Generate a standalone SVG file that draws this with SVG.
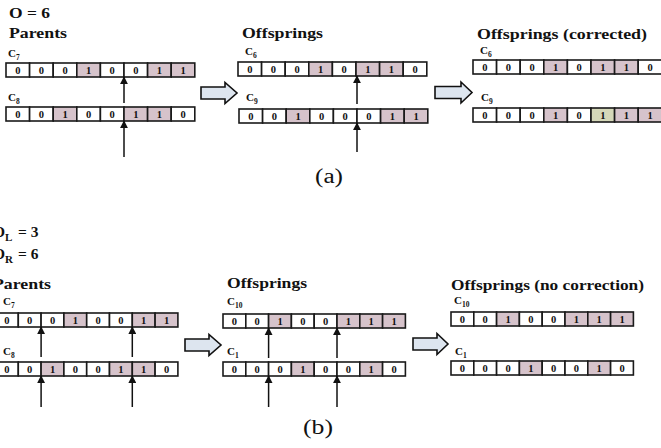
<svg xmlns="http://www.w3.org/2000/svg" width="661" height="448" viewBox="0 0 661 448">
  <style>
    .title { font-family: "Liberation Serif", "Times New Roman", serif; font-weight: bold; font-size: 15.5px; fill: #111; }
    .lbl { font-family: "Liberation Serif", "Times New Roman", serif; font-weight: bold; font-size: 11px; fill: #111; }
    .sub { font-size: 7.5px; }
    .cell { fill: #ffffff; stroke: #1a1a1a; stroke-width: 1.6; }
    .on { fill: #d6c3cb; }
    .fix { fill: #d5d8b9; }
    .bit { font-family: "Liberation Serif", "Times New Roman", serif; font-weight: bold; font-size: 10.5px; fill: #111; text-anchor: middle; }
    .cut { stroke: #111; stroke-width: 1.5; fill: none; marker-end: url(#tip); }
    .flow { fill: #dde5ef; stroke: #111; stroke-width: 1.6; stroke-linejoin: miter; }
    .cap { font-family: "Liberation Serif", "DejaVu Serif", serif; font-size: 20px; fill: #111; }
  </style>
  <defs>
    <marker id="tip" viewBox="0 0 10 10" refX="9" refY="5" markerWidth="5.5" markerHeight="5.5" orient="auto" markerUnits="strokeWidth">
      <path d="M0,0 L10,5 L0,10 Z" fill="#111"/>
    </marker>
  </defs>

  <rect width="661" height="448" fill="#ffffff"/>

  <!-- ===== (a) single-point crossover ===== -->
  <g id="a-headers">
    <text class="title" x="9" y="18" textLength="41" lengthAdjust="spacingAndGlyphs">O = 6</text>
    <text class="title" x="9" y="38" textLength="58" lengthAdjust="spacingAndGlyphs">Parents</text>
    <text class="title" x="242" y="38" textLength="81" lengthAdjust="spacingAndGlyphs">Offsprings</text>
    <text class="title" x="477" y="39" textLength="170" lengthAdjust="spacingAndGlyphs">Offsprings (corrected)</text>
  </g>

  <!-- parent C7 -->
  <g id="a-parent-c7">
    <text class="lbl" x="8" y="57">C<tspan class="sub" dy="3">7</tspan></text>
    <g transform="translate(6,63)">
      <rect class="cell" x="0" y="0" width="23.6" height="14"/>
      <rect class="cell" x="23.6" y="0" width="23.6" height="14"/>
      <rect class="cell" x="47.2" y="0" width="23.6" height="14"/>
      <rect class="cell on" x="70.8" y="0" width="23.6" height="14"/>
      <rect class="cell" x="94.4" y="0" width="23.6" height="14"/>
      <rect class="cell" x="118" y="0" width="23.6" height="14"/>
      <rect class="cell on" x="141.6" y="0" width="23.6" height="14"/>
      <rect class="cell on" x="165.2" y="0" width="23.6" height="14"/>
      <text class="bit" x="11.8" y="10.5">0</text><text class="bit" x="35.4" y="10.5">0</text>
      <text class="bit" x="59" y="10.5">0</text><text class="bit" x="82.6" y="10.5">1</text>
      <text class="bit" x="106.2" y="10.5">0</text><text class="bit" x="129.8" y="10.5">0</text>
      <text class="bit" x="153.4" y="10.5">1</text><text class="bit" x="177" y="10.5">1</text>
    </g>
  </g>

  <!-- parent C8 -->
  <g id="a-parent-c8">
    <text class="lbl" x="8" y="101">C<tspan class="sub" dy="3">8</tspan></text>
    <g transform="translate(6,107)">
      <rect class="cell" x="0" y="0" width="23.6" height="14"/>
      <rect class="cell" x="23.6" y="0" width="23.6" height="14"/>
      <rect class="cell on" x="47.2" y="0" width="23.6" height="14"/>
      <rect class="cell" x="70.8" y="0" width="23.6" height="14"/>
      <rect class="cell" x="94.4" y="0" width="23.6" height="14"/>
      <rect class="cell on" x="118" y="0" width="23.6" height="14"/>
      <rect class="cell on" x="141.6" y="0" width="23.6" height="14"/>
      <rect class="cell" x="165.2" y="0" width="23.6" height="14"/>
      <text class="bit" x="11.8" y="10.5">0</text><text class="bit" x="35.4" y="10.5">0</text>
      <text class="bit" x="59" y="10.5">1</text><text class="bit" x="82.6" y="10.5">0</text>
      <text class="bit" x="106.2" y="10.5">0</text><text class="bit" x="129.8" y="10.5">1</text>
      <text class="bit" x="153.4" y="10.5">1</text><text class="bit" x="177" y="10.5">0</text>
    </g>
  </g>

  <!-- offspring C6 -->
  <g id="a-child-c6">
    <text class="lbl" x="245" y="55">C<tspan class="sub" dy="3">6</tspan></text>
    <g transform="translate(238,62)">
      <rect class="cell" x="0" y="0" width="23.6" height="14"/>
      <rect class="cell" x="23.6" y="0" width="23.6" height="14"/>
      <rect class="cell" x="47.2" y="0" width="23.6" height="14"/>
      <rect class="cell on" x="70.8" y="0" width="23.6" height="14"/>
      <rect class="cell" x="94.4" y="0" width="23.6" height="14"/>
      <rect class="cell on" x="118" y="0" width="23.6" height="14"/>
      <rect class="cell on" x="141.6" y="0" width="23.6" height="14"/>
      <rect class="cell" x="165.2" y="0" width="23.6" height="14"/>
      <text class="bit" x="11.8" y="10.5">0</text><text class="bit" x="35.4" y="10.5">0</text>
      <text class="bit" x="59" y="10.5">0</text><text class="bit" x="82.6" y="10.5">1</text>
      <text class="bit" x="106.2" y="10.5">0</text><text class="bit" x="129.8" y="10.5">1</text>
      <text class="bit" x="153.4" y="10.5">1</text><text class="bit" x="177" y="10.5">0</text>
    </g>
  </g>

  <!-- offspring C9 -->
  <g id="a-child-c9">
    <text class="lbl" x="246" y="101">C<tspan class="sub" dy="3">9</tspan></text>
    <g transform="translate(239,109)">
      <rect class="cell" x="0" y="0" width="23.6" height="14"/>
      <rect class="cell" x="23.6" y="0" width="23.6" height="14"/>
      <rect class="cell on" x="47.2" y="0" width="23.6" height="14"/>
      <rect class="cell" x="70.8" y="0" width="23.6" height="14"/>
      <rect class="cell" x="94.4" y="0" width="23.6" height="14"/>
      <rect class="cell" x="118" y="0" width="23.6" height="14"/>
      <rect class="cell on" x="141.6" y="0" width="23.6" height="14"/>
      <rect class="cell on" x="165.2" y="0" width="23.6" height="14"/>
      <text class="bit" x="11.8" y="10.5">0</text><text class="bit" x="35.4" y="10.5">0</text>
      <text class="bit" x="59" y="10.5">1</text><text class="bit" x="82.6" y="10.5">0</text>
      <text class="bit" x="106.2" y="10.5">0</text><text class="bit" x="129.8" y="10.5">0</text>
      <text class="bit" x="153.4" y="10.5">1</text><text class="bit" x="177" y="10.5">1</text>
    </g>
  </g>

  <!-- corrected C6 -->
  <g id="a-fixed-c6">
    <text class="lbl" x="480" y="54">C<tspan class="sub" dy="3">6</tspan></text>
    <g transform="translate(473,60)">
      <rect class="cell" x="0" y="0" width="23.6" height="14"/>
      <rect class="cell" x="23.6" y="0" width="23.6" height="14"/>
      <rect class="cell" x="47.2" y="0" width="23.6" height="14"/>
      <rect class="cell on" x="70.8" y="0" width="23.6" height="14"/>
      <rect class="cell" x="94.4" y="0" width="23.6" height="14"/>
      <rect class="cell on" x="118" y="0" width="23.6" height="14"/>
      <rect class="cell on" x="141.6" y="0" width="23.6" height="14"/>
      <rect class="cell" x="165.2" y="0" width="23.6" height="14"/>
      <text class="bit" x="11.8" y="10.5">0</text><text class="bit" x="35.4" y="10.5">0</text>
      <text class="bit" x="59" y="10.5">0</text><text class="bit" x="82.6" y="10.5">1</text>
      <text class="bit" x="106.2" y="10.5">0</text><text class="bit" x="129.8" y="10.5">1</text>
      <text class="bit" x="153.4" y="10.5">1</text><text class="bit" x="177" y="10.5">0</text>
    </g>
  </g>

  <!-- corrected C9 (repaired gene highlighted) -->
  <g id="a-fixed-c9">
    <text class="lbl" x="481" y="101">C<tspan class="sub" dy="3">9</tspan></text>
    <g transform="translate(473,108)">
      <rect class="cell" x="0" y="0" width="23.6" height="14"/>
      <rect class="cell" x="23.6" y="0" width="23.6" height="14"/>
      <rect class="cell" x="47.2" y="0" width="23.6" height="14"/>
      <rect class="cell on" x="70.8" y="0" width="23.6" height="14"/>
      <rect class="cell" x="94.4" y="0" width="23.6" height="14"/>
      <rect class="cell fix" x="118" y="0" width="23.6" height="14"/>
      <rect class="cell on" x="141.6" y="0" width="23.6" height="14"/>
      <rect class="cell on" x="165.2" y="0" width="23.6" height="14"/>
      <text class="bit" x="11.8" y="10.5">0</text><text class="bit" x="35.4" y="10.5">0</text>
      <text class="bit" x="59" y="10.5">0</text><text class="bit" x="82.6" y="10.5">1</text>
      <text class="bit" x="106.2" y="10.5">0</text><text class="bit" x="129.8" y="10.5">1</text>
      <text class="bit" x="153.4" y="10.5">1</text><text class="bit" x="177" y="10.5">1</text>
    </g>
  </g>

  <!-- ===== (b) two-point crossover ===== -->
  <g id="b-headers">
    <text class="title" x="-7" y="237">O<tspan class="sub" style="font-size:11px" dy="4">L</tspan><tspan dy="-4" x="18">= 3</tspan></text>
    <text class="title" x="-7" y="259">O<tspan class="sub" style="font-size:11px" dy="4">R</tspan><tspan dy="-4" x="18">= 6</tspan></text>
    <text class="title" x="-7" y="289" textLength="58" lengthAdjust="spacingAndGlyphs">Parents</text>
    <text class="title" x="227" y="288" textLength="80" lengthAdjust="spacingAndGlyphs">Offsprings</text>
    <text class="title" x="451" y="290" textLength="193" lengthAdjust="spacingAndGlyphs">Offsprings (no correction)</text>
  </g>

  <!-- parent C7 -->
  <g id="b-parent-c7">
    <text class="lbl" x="3" y="305">C<tspan class="sub" dy="3">7</tspan></text>
    <g transform="translate(-4.5,313)">
      <rect class="cell" x="0" y="0" width="22.8" height="14"/>
      <rect class="cell" x="22.8" y="0" width="22.8" height="14"/>
      <rect class="cell" x="45.6" y="0" width="22.8" height="14"/>
      <rect class="cell on" x="68.4" y="0" width="22.8" height="14"/>
      <rect class="cell" x="91.2" y="0" width="22.8" height="14"/>
      <rect class="cell" x="114" y="0" width="22.8" height="14"/>
      <rect class="cell on" x="136.8" y="0" width="22.8" height="14"/>
      <rect class="cell on" x="159.6" y="0" width="22.8" height="14"/>
      <text class="bit" x="11.4" y="10.5">0</text><text class="bit" x="34.2" y="10.5">0</text>
      <text class="bit" x="57" y="10.5">0</text><text class="bit" x="79.8" y="10.5">1</text>
      <text class="bit" x="102.6" y="10.5">0</text><text class="bit" x="125.4" y="10.5">0</text>
      <text class="bit" x="148.2" y="10.5">1</text><text class="bit" x="171" y="10.5">1</text>
    </g>
  </g>

  <!-- parent C8 -->
  <g id="b-parent-c8">
    <text class="lbl" x="3" y="355">C<tspan class="sub" dy="3">8</tspan></text>
    <g transform="translate(-4.5,362)">
      <rect class="cell" x="0" y="0" width="22.8" height="14"/>
      <rect class="cell" x="22.8" y="0" width="22.8" height="14"/>
      <rect class="cell on" x="45.6" y="0" width="22.8" height="14"/>
      <rect class="cell" x="68.4" y="0" width="22.8" height="14"/>
      <rect class="cell" x="91.2" y="0" width="22.8" height="14"/>
      <rect class="cell on" x="114" y="0" width="22.8" height="14"/>
      <rect class="cell on" x="136.8" y="0" width="22.8" height="14"/>
      <rect class="cell" x="159.6" y="0" width="22.8" height="14"/>
      <text class="bit" x="11.4" y="10.5">0</text><text class="bit" x="34.2" y="10.5">0</text>
      <text class="bit" x="57" y="10.5">1</text><text class="bit" x="79.8" y="10.5">0</text>
      <text class="bit" x="102.6" y="10.5">0</text><text class="bit" x="125.4" y="10.5">1</text>
      <text class="bit" x="148.2" y="10.5">1</text><text class="bit" x="171" y="10.5">0</text>
    </g>
  </g>

  <!-- offspring C10 -->
  <g id="b-child-c10">
    <text class="lbl" x="227" y="305">C<tspan class="sub" dy="3">10</tspan></text>
    <g transform="translate(223,314)">
      <rect class="cell" x="0" y="0" width="22.8" height="14"/>
      <rect class="cell" x="22.8" y="0" width="22.8" height="14"/>
      <rect class="cell on" x="45.6" y="0" width="22.8" height="14"/>
      <rect class="cell" x="68.4" y="0" width="22.8" height="14"/>
      <rect class="cell" x="91.2" y="0" width="22.8" height="14"/>
      <rect class="cell on" x="114" y="0" width="22.8" height="14"/>
      <rect class="cell on" x="136.8" y="0" width="22.8" height="14"/>
      <rect class="cell on" x="159.6" y="0" width="22.8" height="14"/>
      <text class="bit" x="11.4" y="10.5">0</text><text class="bit" x="34.2" y="10.5">0</text>
      <text class="bit" x="57" y="10.5">1</text><text class="bit" x="79.8" y="10.5">0</text>
      <text class="bit" x="102.6" y="10.5">0</text><text class="bit" x="125.4" y="10.5">1</text>
      <text class="bit" x="148.2" y="10.5">1</text><text class="bit" x="171" y="10.5">1</text>
    </g>
  </g>

  <!-- offspring C1 -->
  <g id="b-child-c1">
    <text class="lbl" x="227" y="355">C<tspan class="sub" dy="3">1</tspan></text>
    <g transform="translate(223,362)">
      <rect class="cell" x="0" y="0" width="22.8" height="14"/>
      <rect class="cell" x="22.8" y="0" width="22.8" height="14"/>
      <rect class="cell" x="45.6" y="0" width="22.8" height="14"/>
      <rect class="cell on" x="68.4" y="0" width="22.8" height="14"/>
      <rect class="cell" x="91.2" y="0" width="22.8" height="14"/>
      <rect class="cell" x="114" y="0" width="22.8" height="14"/>
      <rect class="cell on" x="136.8" y="0" width="22.8" height="14"/>
      <rect class="cell" x="159.6" y="0" width="22.8" height="14"/>
      <text class="bit" x="11.4" y="10.5">0</text><text class="bit" x="34.2" y="10.5">0</text>
      <text class="bit" x="57" y="10.5">0</text><text class="bit" x="79.8" y="10.5">1</text>
      <text class="bit" x="102.6" y="10.5">0</text><text class="bit" x="125.4" y="10.5">0</text>
      <text class="bit" x="148.2" y="10.5">1</text><text class="bit" x="171" y="10.5">0</text>
    </g>
  </g>

  <!-- unrepaired C10 -->
  <g id="b-final-c10">
    <text class="lbl" x="454" y="304">C<tspan class="sub" dy="3">10</tspan></text>
    <g transform="translate(451,312)">
      <rect class="cell" x="0" y="0" width="22.8" height="14"/>
      <rect class="cell" x="22.8" y="0" width="22.8" height="14"/>
      <rect class="cell on" x="45.6" y="0" width="22.8" height="14"/>
      <rect class="cell" x="68.4" y="0" width="22.8" height="14"/>
      <rect class="cell" x="91.2" y="0" width="22.8" height="14"/>
      <rect class="cell on" x="114" y="0" width="22.8" height="14"/>
      <rect class="cell on" x="136.8" y="0" width="22.8" height="14"/>
      <rect class="cell on" x="159.6" y="0" width="22.8" height="14"/>
      <text class="bit" x="11.4" y="10.5">0</text><text class="bit" x="34.2" y="10.5">0</text>
      <text class="bit" x="57" y="10.5">1</text><text class="bit" x="79.8" y="10.5">0</text>
      <text class="bit" x="102.6" y="10.5">0</text><text class="bit" x="125.4" y="10.5">1</text>
      <text class="bit" x="148.2" y="10.5">1</text><text class="bit" x="171" y="10.5">1</text>
    </g>
  </g>

  <!-- unrepaired C1 -->
  <g id="b-final-c1">
    <text class="lbl" x="455" y="355">C<tspan class="sub" dy="3">1</tspan></text>
    <g transform="translate(451,361)">
      <rect class="cell" x="0" y="0" width="22.8" height="14"/>
      <rect class="cell" x="22.8" y="0" width="22.8" height="14"/>
      <rect class="cell" x="45.6" y="0" width="22.8" height="14"/>
      <rect class="cell on" x="68.4" y="0" width="22.8" height="14"/>
      <rect class="cell" x="91.2" y="0" width="22.8" height="14"/>
      <rect class="cell" x="114" y="0" width="22.8" height="14"/>
      <rect class="cell on" x="136.8" y="0" width="22.8" height="14"/>
      <rect class="cell" x="159.6" y="0" width="22.8" height="14"/>
      <text class="bit" x="11.4" y="10.5">0</text><text class="bit" x="34.2" y="10.5">0</text>
      <text class="bit" x="57" y="10.5">0</text><text class="bit" x="79.8" y="10.5">1</text>
      <text class="bit" x="102.6" y="10.5">0</text><text class="bit" x="125.4" y="10.5">0</text>
      <text class="bit" x="148.2" y="10.5">1</text><text class="bit" x="171" y="10.5">0</text>
    </g>
  </g>

  <!-- connectors: crossover cut markers and flow arrows -->
  <g id="connectors">
    <line class="cut" x1="124" y1="103" x2="124" y2="77"/>
    <line class="cut" x1="124" y1="157" x2="124" y2="121"/>
    <line class="cut" x1="357" y1="104" x2="357" y2="76"/>
    <line class="cut" x1="357" y1="152" x2="357" y2="123"/>

    <line class="cut" x1="41.1" y1="357" x2="41.1" y2="327"/>
    <line class="cut" x1="132.3" y1="357" x2="132.3" y2="327"/>
    <line class="cut" x1="41.1" y1="407" x2="41.1" y2="376"/>
    <line class="cut" x1="132.3" y1="407" x2="132.3" y2="376"/>
    <line class="cut" x1="268.6" y1="358" x2="268.6" y2="328"/>
    <line class="cut" x1="337" y1="358" x2="337" y2="328"/>
    <line class="cut" x1="268.6" y1="407" x2="268.6" y2="376"/>
    <line class="cut" x1="337" y1="407" x2="337" y2="376"/>

    <path class="flow" d="M201,87 H225 V82.5 L237,93 L225,103.5 V99 H201 Z"/>
    <path class="flow" d="M435,86.5 H461 V82 L472,92.5 L461,103 V98.5 H435 Z"/>
    <path class="flow" d="M185,339 H209 V334.5 L221,345 L209,355.5 V351 H185 Z"/>
    <path class="flow" d="M413,338 H437 V333.5 L448,344 L437,354.5 V350 H413 Z"/>
  </g>

  <text class="cap" x="315" y="183" textLength="28" lengthAdjust="spacingAndGlyphs">(a)</text>
  <text class="cap" x="303" y="434" textLength="30" lengthAdjust="spacingAndGlyphs">(b)</text>
</svg>
